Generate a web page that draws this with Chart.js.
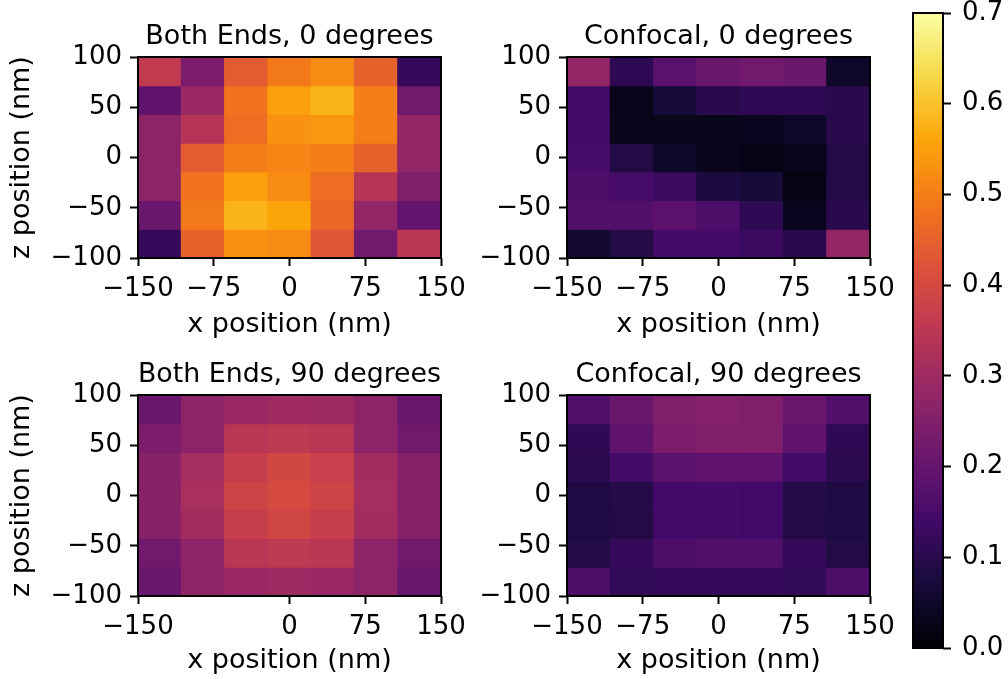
<!DOCTYPE html>
<html>
<head>
<meta charset="utf-8">
<script src="https://cdn.jsdelivr.net/npm/chart.js@4.4.0/dist/chart.umd.min.js"></script>
<style>
  html, body { margin: 0; padding: 0; background: #fff; overflow: hidden; }
  body { width: 1008px; height: 679px; position: relative; }
  .panel { position: absolute; }
  canvas { display: block; }
</style>
</head>
<body>
<div class="panel" style="left:0;top:0"><canvas id="bothEnds0" width="480" height="340"></canvas></div>
<div class="panel" style="left:480px;top:0"><canvas id="confocal0" width="430" height="340"></canvas></div>
<div class="panel" style="left:0;top:340px"><canvas id="bothEnds90" width="480" height="339"></canvas></div>
<div class="panel" style="left:480px;top:340px"><canvas id="confocal90" width="430" height="339"></canvas></div>
<div class="panel" style="left:900px;top:-20px"><canvas id="colorbar" width="108" height="699"></canvas></div>
<script>
// grid extents and ticks
const xRange = [-150, 150];
const zRange = [-100, 100];
const xTicks = [-150, -75, 0, 75, 150];
const xTicksBothEnds90 = [-150, 0, 75, 150];
const zTicks = [-100, -50, 0, 50, 100];
const cbRange = [0, 0.7];
const cbTicks = [0, 0.1, 0.2, 0.3, 0.4, 0.5, 0.6, 0.7];

// rows go from z = +100 (top) down to z = -100, columns from x = -150 to +150
const bothEnds0 = [
  [0.36, 0.24, 0.44, 0.49, 0.52, 0.45, 0.12],
  [0.19, 0.29, 0.48, 0.55, 0.58, 0.50, 0.22],
  [0.27, 0.34, 0.47, 0.53, 0.54, 0.50, 0.28],
  [0.27, 0.44, 0.50, 0.51, 0.50, 0.45, 0.28],
  [0.27, 0.48, 0.55, 0.52, 0.47, 0.34, 0.25],
  [0.21, 0.49, 0.58, 0.56, 0.46, 0.28, 0.20],
  [0.12, 0.45, 0.53, 0.52, 0.43, 0.22, 0.35]
];
const confocal0 = [
  [0.28, 0.11, 0.18, 0.21, 0.22, 0.21, 0.05],
  [0.14, 0.03, 0.07, 0.10, 0.11, 0.11, 0.10],
  [0.145, 0.03, 0.03, 0.03, 0.035, 0.05, 0.10],
  [0.15, 0.09, 0.05, 0.03, 0.025, 0.03, 0.09],
  [0.16, 0.15, 0.13, 0.08, 0.07, 0.02, 0.09],
  [0.17, 0.17, 0.185, 0.16, 0.11, 0.035, 0.10],
  [0.06, 0.09, 0.145, 0.145, 0.13, 0.10, 0.28]
];
const bothEnds90 = [
  [0.21, 0.27, 0.29, 0.30, 0.295, 0.27, 0.21],
  [0.24, 0.27, 0.345, 0.355, 0.345, 0.27, 0.22],
  [0.26, 0.31, 0.37, 0.395, 0.375, 0.305, 0.26],
  [0.26, 0.315, 0.385, 0.40, 0.385, 0.31, 0.26],
  [0.26, 0.305, 0.37, 0.39, 0.37, 0.305, 0.26],
  [0.22, 0.27, 0.345, 0.355, 0.345, 0.27, 0.22],
  [0.21, 0.27, 0.29, 0.295, 0.29, 0.27, 0.21]
];
const confocal90 = [
  [0.17, 0.21, 0.245, 0.255, 0.25, 0.21, 0.17],
  [0.11, 0.19, 0.24, 0.25, 0.245, 0.19, 0.11],
  [0.105, 0.145, 0.185, 0.19, 0.19, 0.145, 0.105],
  [0.085, 0.095, 0.14, 0.145, 0.14, 0.095, 0.085],
  [0.085, 0.09, 0.14, 0.145, 0.14, 0.09, 0.085],
  [0.09, 0.12, 0.16, 0.17, 0.165, 0.12, 0.09],
  [0.16, 0.115, 0.12, 0.12, 0.12, 0.115, 0.16]
];

const INFERNO = ['#000004', '#160b39', '#420a68', '#6a176e', '#932667', '#bc3754',
                 '#dd513a', '#f37819', '#fca50a', '#f6d746', '#fcffa4'];

Chart.defaults.font.family = 'DejaVu Sans';
Chart.defaults.color = '#000';

const tickFont = { size: 26, lineHeight: 1.2 };
const labelFont = { size: 27, lineHeight: 1.2, weight: 'normal' };

function hexRgb(h) {
  return [1, 3, 5].map(i => parseInt(h.slice(i, i + 2), 16));
}

function inferno(t) {
  t = Math.min(1, Math.max(0, t));
  const p = t * (INFERNO.length - 1);
  const i = Math.min(Math.floor(p), INFERNO.length - 2);
  const f = p - i;
  const a = hexRgb(INFERNO[i]), b = hexRgb(INFERNO[i + 1]);
  const c = a.map((v, k) => Math.round(v + (b[k] - v) * f));
  return `rgb(${c[0]},${c[1]},${c[2]})`;
}

function cellColor(v) {
  return inferno((v - cbRange[0]) / (cbRange[1] - cbRange[0]));
}

function fmt(v) {
  return v < 0 ? '\u2212' + Math.abs(v) : String(v);
}

const frame = {
  id: 'frame',
  afterDatasetsDraw(chart) {
    const { ctx, chartArea: a } = chart;
    ctx.save();
    ctx.strokeStyle = '#000';
    ctx.lineWidth = 2;
    ctx.strokeRect(a.left, a.top, a.right - a.left, a.bottom - a.top);
    ctx.restore();
  }
};

const tickGrid = { drawOnChartArea: false, offset: false, tickLength: 8, tickWidth: 2, tickColor: '#000' };

function heatmap(id, title, values, xt, box) {
  const canvas = document.getElementById(id);
  const W = canvas.width, H = canvas.height;
  const dz = (zRange[1] - zRange[0]) / values.length;
  const datasets = values.map((row, i) => ({
    data: row.map(() => [zRange[1] - (i + 1) * dz, zRange[1] - i * dz]),
    backgroundColor: row.map(cellColor),
    borderWidth: 0,
    barPercentage: 1,
    categoryPercentage: 1,
    inflateAmount: 0.5,
    xAxisID: 'cells',
    yAxisID: 'y'
  }));

  return new Chart(canvas, {
    type: 'bar',
    data: { labels: values[0].map((_, j) => j), datasets },
    options: {
      responsive: false,
      animation: false,
      layout: { padding: { left: 0, top: 0, bottom: 0, right: W - box.right } },
      plugins: {
        legend: { display: false },
        tooltip: { enabled: false },
        title: {
          display: true,
          fullSize: false,
          text: title,
          font: labelFont,
          color: '#000',
          padding: { top: box.titleY - 16.2, bottom: box.top - box.titleY - 16.2 }
        }
      },
      scales: {
        cells: { type: 'category', display: false, stacked: true, offset: true },
        x: {
          type: 'linear',
          position: 'bottom',
          offset: false,
          min: xRange[0],
          max: xRange[1],
          afterBuildTicks: s => { s.ticks = xt.map(v => ({ value: v })); },
          afterFit: s => { s.height = H - box.bottom; },
          ticks: { font: tickFont, padding: 8, maxRotation: 0, autoSkip: false, callback: fmt },
          grid: tickGrid,
          border: { display: false },
          title: { display: true, text: 'x position (nm)', font: labelFont, padding: { top: 0, bottom: H - box.xTitleY - 16.2 } }
        },
        y: {
          type: 'linear',
          position: 'left',
          offset: false,
          min: zRange[0],
          max: zRange[1],
          afterBuildTicks: s => { s.ticks = zTicks.map(v => ({ value: v })); },
          afterFit: s => { s.width = box.left; },
          ticks: { font: tickFont, padding: 8, autoSkip: false, callback: fmt },
          grid: tickGrid,
          border: { display: false },
          title: { display: box.yTitle, text: 'z position (nm)', font: labelFont, padding: { top: 6, bottom: 0 } }
        }
      }
    },
    plugins: [frame]
  });
}

heatmap('bothEnds0', 'Both Ends, 0 degrees', bothEnds0, xTicks,
  { left: 138, top: 57, right: 441, bottom: 258, titleY: 37, xTitleY: 325, yTitle: true });
heatmap('confocal0', 'Confocal, 0 degrees', confocal0, xTicks,
  { left: 87, top: 57, right: 390, bottom: 258, titleY: 37, xTitleY: 325, yTitle: false });
heatmap('bothEnds90', 'Both Ends, 90 degrees', bothEnds90, xTicksBothEnds90,
  { left: 138, top: 55, right: 441, bottom: 256, titleY: 35, xTitleY: 321, yTitle: true });
heatmap('confocal90', 'Confocal, 90 degrees', confocal90, xTicks,
  { left: 87, top: 55, right: 390, bottom: 256, titleY: 35, xTitleY: 321, yTitle: false });

// colorbar
const cbCanvas = document.getElementById('colorbar');
new Chart(cbCanvas, {
  type: 'bar',
  data: {
    labels: ['cb'],
    datasets: [{
      data: [cbRange],
      backgroundColor: ctx => {
        const a = ctx.chart.chartArea;
        if (!a) return '#000';
        const g = ctx.chart.ctx.createLinearGradient(0, a.bottom, 0, a.top);
        INFERNO.forEach((c, i) => g.addColorStop(i / (INFERNO.length - 1), c));
        return g;
      },
      borderWidth: 0,
      barPercentage: 1,
      categoryPercentage: 1
    }]
  },
  options: {
    responsive: false,
    animation: false,
    layout: { padding: { left: 13, top: 33, bottom: 31, right: 0 } },
    plugins: { legend: { display: false }, tooltip: { enabled: false } },
    scales: {
      x: { display: false },
      y: {
        position: 'right',
        min: cbRange[0],
        max: cbRange[1],
        afterBuildTicks: s => { s.ticks = cbTicks.map(v => ({ value: v })); },
        afterFit: s => { s.width = cbCanvas.width - 43; },
        ticks: { font: tickFont, padding: 11, autoSkip: false, callback: v => v.toFixed(1) },
        grid: tickGrid,
        border: { display: false }
      }
    }
  },
  plugins: [frame]
});
</script>
</body>
</html>
